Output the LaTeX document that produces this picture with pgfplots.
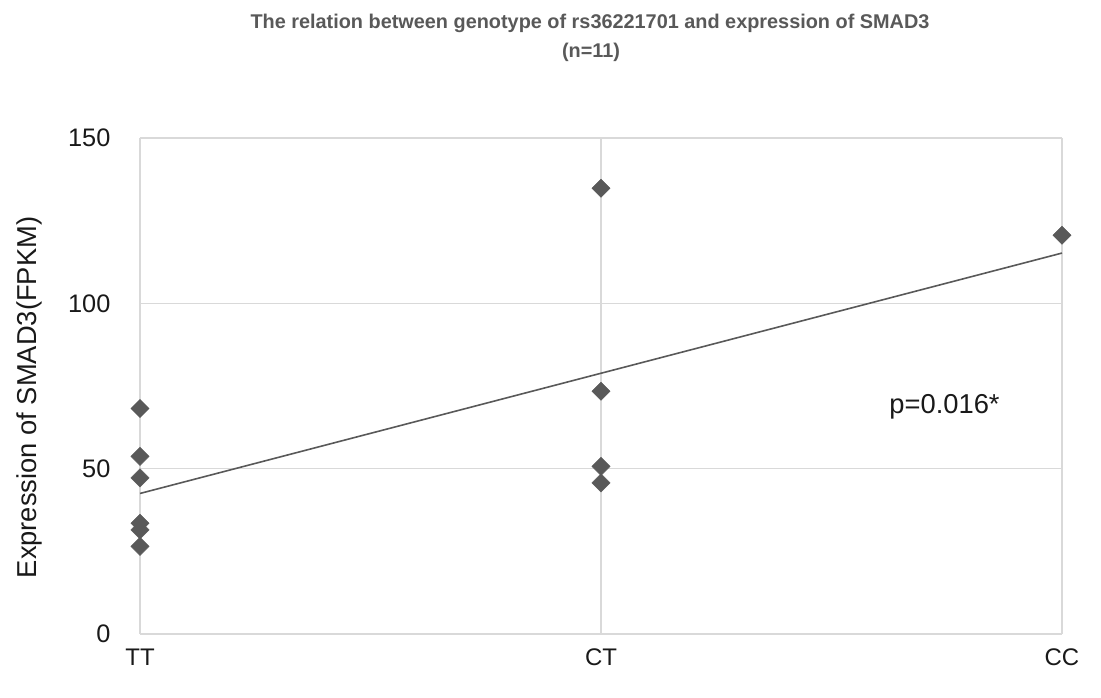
\documentclass[border=0pt]{standalone}
\usepackage{pgfplots}
\pgfplotsset{compat=1.18}
\usepackage{fontspec}
\setmainfont{Liberation Sans}
\definecolor{mark}{HTML}{595959}
\definecolor{grid}{HTML}{D9D9D9}
\definecolor{titlec}{HTML}{595959}
\begin{document}
\begin{tikzpicture}
\useasboundingbox (0,0) rectangle (825.75pt,523.5pt);
\begin{axis}[
  at={(105pt,48pt)}, anchor=south west,
  scale only axis, width=691.5pt, height=372pt,
  xmin=1, xmax=3, ymin=0, ymax=150,
  xtick={1,2,3}, xticklabels={TT,CT,CC},
  ytick={0,50,100,150},
  grid=major,
  major grid style={color=grid, line width=1pt},
  axis line style={draw=none},
  tick style={draw=none},
  /pgf/number format/assume math mode=true,
  yticklabel style={anchor=east, inner sep=0pt, xshift=-22pt, font=\fontsize{19}{22}\selectfont, text=black!90},
  xticklabel style={anchor=north, inner sep=0pt, yshift=-11pt, font=\fontsize{18}{22}\selectfont, text=black!90},
  clip=false,
]
\addplot[color=mark, line width=1.2pt, no marks] coordinates {(1,42.5) (3,115.2)};
\addplot[only marks, mark=square*, mark size=4.8pt, mark options={rotate=45, fill=mark, draw=mark}] coordinates {
  (1,68.2) (1,53.7) (1,47.2) (1,33.5) (1,31.5) (1,26.5)
  (2,134.8) (2,73.4) (2,50.7) (2,45.7)
  (3,120.6)
};
\end{axis}
\node[font=\bfseries\fontsize{14.9}{17}\selectfont, text=titlec, inner sep=0pt] at (442.5pt,506pt) {The relation between genotype of rs36221701 and expression of SMAD3};
\node[font=\bfseries\fontsize{14.9}{17}\selectfont, text=titlec, inner sep=0pt] at (443.25pt,484pt) {(n=11)};
\node[rotate=90, font=\fontsize{20.5}{24}\selectfont, text=black!90, inner sep=0pt] at (21.75pt,225.4pt) {Expression of SMAD3(FPKM)};
\node[font=\fontsize{20.5}{24}\selectfont, text=black!90, inner sep=0pt] at (708.4pt,218.25pt) {p=0.016*};
\end{tikzpicture}
\end{document}
